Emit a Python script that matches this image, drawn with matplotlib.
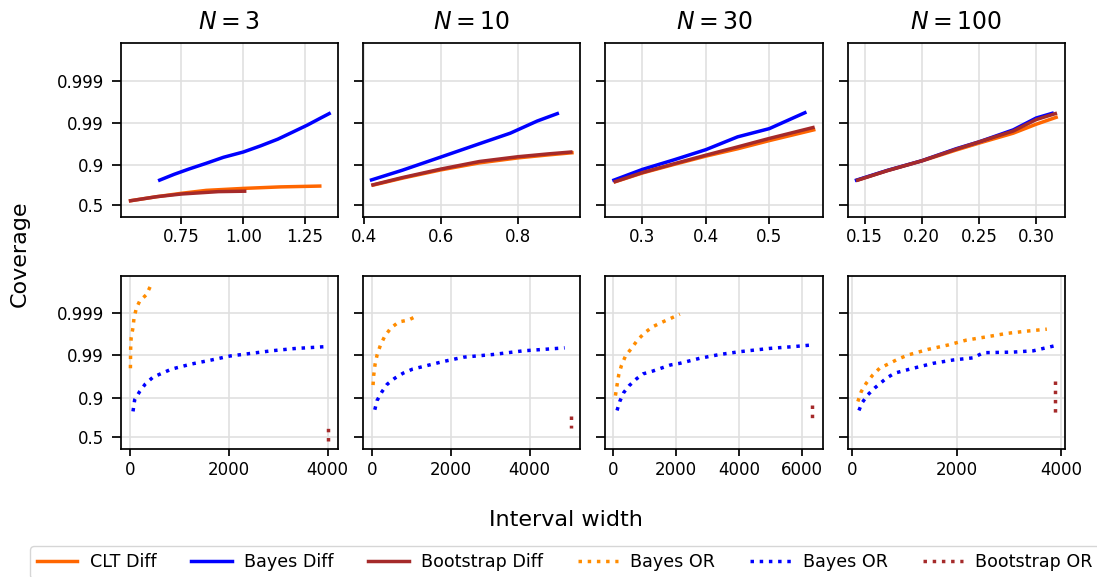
import numpy as np
import matplotlib
matplotlib.use('Agg')
import matplotlib.pyplot as plt
from matplotlib.ticker import NullLocator, FixedLocator, FixedFormatter

Ns = [3, 10, 30, 100]

# ---- top row: difference intervals (width, coverage) ----
clt_diff_w = [
    [0.544, 0.65, 0.75, 0.85, 1.0, 1.15, 1.31],
    [0.425, 0.5, 0.6, 0.7, 0.8, 0.88, 0.94],
    [0.257, 0.3, 0.35, 0.4, 0.45, 0.5, 0.57],
    [0.144, 0.17, 0.2, 0.23, 0.25, 0.28, 0.3, 0.3175],
]
clt_diff_c = [
    [0.555, 0.61, 0.654, 0.69, 0.713, 0.73, 0.739],
    [0.75, 0.815, 0.875, 0.912, 0.932, 0.942, 0.948],
    [0.783, 0.855, 0.905, 0.938, 0.958, 0.973, 0.985],
    [0.798, 0.87, 0.92, 0.955, 0.969, 0.982, 0.989, 0.9925],
]
bayes_diff_w = [
    [0.662, 0.72, 0.78, 0.85, 0.92, 1.0, 1.07, 1.14, 1.2, 1.26, 1.31, 1.348],
    [0.42, 0.5, 0.6, 0.7, 0.78, 0.85, 0.902],
    [0.255, 0.3, 0.35, 0.4, 0.45, 0.5, 0.556],
    [0.143, 0.17, 0.2, 0.23, 0.25, 0.28, 0.3, 0.314],
]
bayes_diff_c = [
    [0.798, 0.845, 0.88, 0.91, 0.934, 0.95, 0.964, 0.975, 0.983, 0.9885, 0.992, 0.9939],
    [0.80, 0.873, 0.935, 0.968, 0.982, 0.9908, 0.9939],
    [0.798, 0.878, 0.925, 0.956, 0.978, 0.986, 0.9942],
    [0.798, 0.872, 0.921, 0.958, 0.971, 0.985, 0.9922, 0.994],
]
boot_diff_w = [
    [0.544, 0.65, 0.75, 0.9, 1.006],
    [0.4235, 0.5, 0.6, 0.7, 0.8, 0.88, 0.937],
    [0.2572, 0.3, 0.35, 0.4, 0.45, 0.5, 0.5688],
    [0.144, 0.17, 0.2, 0.23, 0.25, 0.28, 0.3, 0.3168],
]
boot_diff_c = [
    [0.555, 0.61, 0.645, 0.675, 0.68],
    [0.752, 0.82, 0.88, 0.918, 0.936, 0.945, 0.95],
    [0.785, 0.858, 0.908, 0.941, 0.962, 0.976, 0.9868],
    [0.798, 0.871, 0.921, 0.957, 0.971, 0.984, 0.9915, 0.9939],
]

# ---- bottom row: odds-ratio intervals (width, coverage) ----
bayes_or_a_w = [
    [15, 17, 20, 30, 67, 88, 134, 202, 337, 425],
    [25, 43, 76, 127, 214, 324, 476, 680, 917, 1131],
    [76, 127, 181, 267, 394, 584, 775, 1006, 1251, 1537, 1822, 2117],
    [108, 173, 269, 396, 525, 717, 877, 1069, 1454, 1838, 2192, 2577, 2962, 3346, 3731],
]
bayes_or_a_c = [
    [0.979, 0.9879, 0.9932, 0.9961, 0.9978, 0.99872, 0.99925, 0.9995, 0.99965, 0.99979],
    [0.948, 0.970, 0.983, 0.9899, 0.9942, 0.99646, 0.99774, 0.9984, 0.99855, 0.99884],
    [0.910, 0.948, 0.970, 0.982, 0.9893, 0.9930, 0.99559, 0.99707, 0.99789, 0.99835, 0.99868, 0.99896],
    [0.879, 0.927, 0.953, 0.970, 0.979, 0.984, 0.9873, 0.9899, 0.9926, 0.9942, 0.99559, 0.99632, 0.99696, 0.99732, 0.9976],
]
bayes_or_b_w = [
    [67, 101, 202, 317, 472, 844, 1249, 1654, 2024, 2463, 2868, 3306, 3913],
    [69, 127, 255, 382, 578, 790, 1029, 1284, 1793, 2319, 3083, 3847, 4357, 4892],
    [127, 212, 339, 508, 743, 952, 1270, 1514, 1822, 2117, 2752, 3387, 4021, 4973, 5661, 6296],
    [128, 192, 300, 429, 654, 813, 1167, 1551, 1936, 2321, 2513, 3090, 3474, 3667, 3872],
]
bayes_or_b_c = [
    [0.807, 0.889, 0.927, 0.951, 0.966, 0.978, 0.9834, 0.9867, 0.9893, 0.9908, 0.992, 0.9929, 0.9936],
    [0.821, 0.885, 0.927, 0.950, 0.964, 0.9726, 0.978, 0.9808, 0.9854, 0.9886, 0.9902, 0.992, 0.9926, 0.9932],
    [0.815, 0.879, 0.923, 0.946, 0.9627, 0.9715, 0.9757, 0.979, 0.9825, 0.984, 0.9879, 0.9902, 0.9916, 0.993, 0.9936, 0.9942],
    [0.815, 0.873, 0.914, 0.939, 0.964, 0.9726, 0.979, 0.984, 0.9867, 0.9882, 0.9911, 0.9914, 0.992, 0.993, 0.9939],
]
boot_or_w = [
    [4000, 4000, 4000, 4000],
    [5040, 5040, 5040, 5040],
    [6317, 6317, 6317, 6317],
    [3891, 3891, 3891, 3891, 3891],
]
boot_or_c = [
    [0.44, 0.55, 0.62, 0.686],
    [0.767, 0.69, 0.66, 0.625],
    [0.858, 0.83, 0.78, 0.742],
    [0.957, 0.93, 0.87, 0.82, 0.786],
]

top_xlims = [(0.504, 1.384), (0.398, 0.962), (0.2416, 0.5843), (0.1354, 0.3254)]
bot_xlims = [(-182, 4209), (-229, 5292), (-241, 6648), (-85, 4083)]

yticks = [0.5, 0.9, 0.99, 0.999]
ytick_labels = ['0.5', '0.9', '0.99', '0.999']

c_clt = '#ff6600'
c_bayes = 'blue'
c_boot = 'brown'
c_bayes_or = 'darkorange'

fig, axes = plt.subplots(2, 4, figsize=(10.97, 5.77), dpi=100, sharey=True)
plt.subplots_adjust(left=0.110, right=0.971, top=0.925, bottom=0.222, wspace=0.115, hspace=0.34)

lw = 2.5
for j in range(4):
    ax = axes[0, j]
    ax.plot(clt_diff_w[j], clt_diff_c[j], color=c_clt, lw=lw, label='CLT Diff')
    ax.plot(bayes_diff_w[j], bayes_diff_c[j], color=c_bayes, lw=lw, label='Bayes Diff')
    ax.plot(boot_diff_w[j], boot_diff_c[j], color=c_boot, lw=lw, label='Bootstrap Diff')
    ax.set_xlim(*top_xlims[j])
    ax.set_title('$N = %d$' % Ns[j], fontsize=17, pad=10)

    ax = axes[1, j]
    ax.plot(bayes_or_a_w[j], bayes_or_a_c[j], color=c_bayes_or, lw=lw, ls=':', label='Bayes OR')
    ax.plot(bayes_or_b_w[j], bayes_or_b_c[j], color=c_bayes, lw=lw, ls=':', label='Bayes OR')
    ax.plot(boot_or_w[j], boot_or_c[j], color=c_boot, lw=lw, ls=':', label='Bootstrap OR')
    ax.set_xlim(*bot_xlims[j])

for ax in axes.flat:
    ax.set_yscale('logit')
    ax.set_ylim(0.339, 0.99988)
    ax.yaxis.set_major_locator(FixedLocator(yticks))
    ax.yaxis.set_major_formatter(FixedFormatter(ytick_labels))
    ax.yaxis.set_minor_locator(NullLocator())
    ax.grid(True, color='0.88', lw=1.2)
    ax.set_axisbelow(True)
    ax.tick_params(labelsize=12, length=5, width=1.25)
    ax.tick_params(axis='y', length=6.5, pad=5.5)
    for s in ax.spines.values():
        s.set_linewidth(1.25)

fig.text(0.018, 0.56, 'Coverage', rotation=90, fontsize=16, va='center', ha='center')
fig.text(0.516, 0.099, 'Interval width', fontsize=16, va='center', ha='center')

handles = axes[0, 0].get_lines() + axes[1, 0].get_lines()
fig.legend(handles, [h.get_label() for h in handles], loc='upper center',
           bbox_to_anchor=(0.515, 0.0537), ncol=6, fontsize=12.6, handlelength=2.3,
           handletextpad=0.7, borderaxespad=0)

fig.savefig('out.png', dpi=100)
